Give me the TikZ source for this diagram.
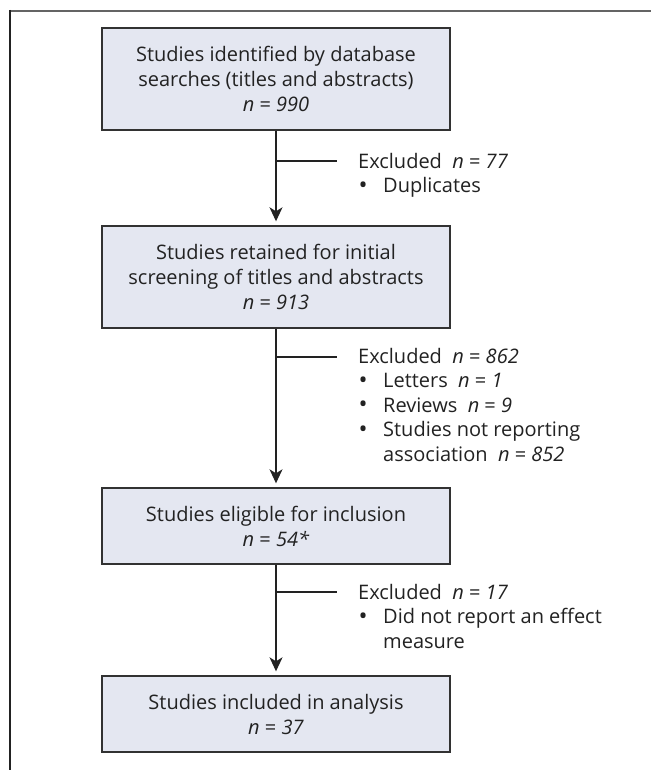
\documentclass[tikz,border=0pt]{standalone}
\usepackage{fontspec}
\setmainfont{Open Sans}
\usetikzlibrary{arrows.meta}
\definecolor{boxfill}{RGB}{228,231,241}
\definecolor{boxline}{RGB}{50,50,50}
\definecolor{txt}{RGB}{34,34,34}
\definecolor{framegray}{RGB}{100,100,100}
\newcommand{\xbul}{\makebox[25pt][l]{\hspace{0.5pt}\raisebox{-0.5pt}{\fontsize{24}{24}\selectfont\textbullet}}}
\newcommand{\xind}{\hspace*{25pt}}
\begin{document}
\begin{tikzpicture}[x=1pt,y=-1pt,
 stage/.style={draw=boxline, line width=1.4pt, fill=boxfill, minimum width=348pt, inner sep=0pt, align=center, font=\fontsize{20}{25}\selectfont, text=txt},
 excl/.style={anchor=north west, inner sep=0pt, align=left, font=\fontsize{20}{24.5}\selectfont, text=txt},
 flow/.style={draw=txt, line width=1.4pt, -{Stealth[length=14pt,width=13pt,inset=4pt]}, shorten >=4pt},
 branch/.style={draw=txt, line width=1.4pt}]
\useasboundingbox (0,0) rectangle (651,770);
\fill[white] (0,0) rectangle (651,770);
% frame
\draw[framegray, line width=2pt] (9,11) -- (651,11);
\draw[txt, line width=2pt] (10,10) -- (10,770);
% boxes
\node[stage, minimum height=102pt] (b1) at (276,79) {Studies identified by database\\searches (titles and abstracts)\\\textit{n} = \textit{990}};
\node[stage, minimum height=102pt] (b2) at (276,277) {Studies retained for initial\\screening of titles and abstracts\\\textit{n} = \textit{913}};
\node[stage, minimum height=76pt] (b3) at (276,526) {Studies eligible for inclusion\\\textit{n} = \textit{54*}};
\node[stage, minimum height=76pt] (b4) at (276,714) {Studies included in analysis\\\textit{n} = \textit{37}};
% exclusion texts
\node[excl] (x1) at (358,153) {\rule{0pt}{15pt}Excluded\ \ \textit{n} = \textit{77}\\\xbul Duplicates};
\node[excl] (x2) at (358,348) {\rule{0pt}{15pt}Excluded\ \ \textit{n} = \textit{862}\\\xbul Letters\ \ \textit{n} = \textit{1}\\\xbul Reviews\ \ \textit{n} = \textit{9}\\\xbul Studies not reporting\\\xind association\ \ \textit{n} = \textit{852}};
\node[excl] (x3) at (358,584) {\rule{0pt}{15pt}Excluded\ \ \textit{n} = \textit{17}\\\xbul Did not report an effect\\\xind measure};
% junctions
\coordinate (j1) at (276,161); \coordinate (e1) at (337,161);
\coordinate (j2) at (276,357); \coordinate (e2) at (337,357);
\coordinate (j3) at (276,592); \coordinate (e3) at (337,592);
% connectors
\draw[flow] (b1) -- (b2);
\draw[flow] (b2) -- (b3);
\draw[flow] (b3) -- (b4);
\draw[branch] (j1) -- (e1);
\draw[branch] (j2) -- (e2);
\draw[branch] (j3) -- (e3);
\end{tikzpicture}
\end{document}
